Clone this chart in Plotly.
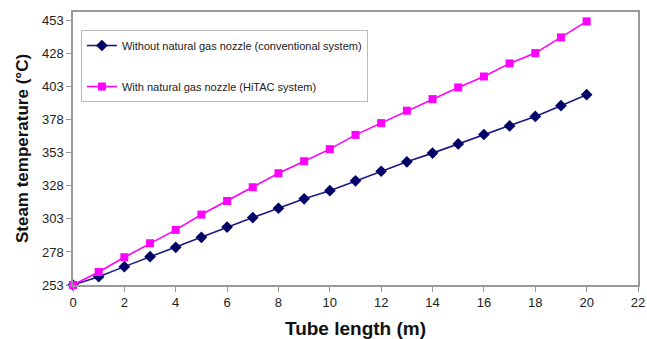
import plotly.graph_objects as go

tube_length = list(range(0, 21))
without_nozzle = [253, 259.3, 266.9, 274.4, 281.5, 289.1, 296.8, 304, 311.1, 318.2, 324.4,
                  331.8, 339.1, 346.2, 352.8, 359.8, 366.9, 373.4, 380.6, 388.7, 397]
with_nozzle = [253, 262.8, 274, 284.6, 294.7, 306.3, 316.6, 327, 337.6, 346.7, 355.8,
               366.6, 375.5, 384.9, 393.7, 402.5, 410.8, 420.7, 428.5, 440.4, 452.5]
y_ticks = [253, 278, 303, 328, 353, 378, 403, 428, 453]
x_ticks = list(range(0, 23, 2))

name1 = "Without natural gas nozzle (conventional system)"
name2 = "With natural gas nozzle (HiTAC system)"

font_fam = "Liberation Sans, Arial, sans-serif"
title_fam = "Liberation Sans, Arial, sans-serif"

fig = go.Figure()
fig.add_trace(go.Scatter(x=tube_length, y=without_nozzle, mode="lines+markers", name=name1,
                         legendgroup="a",
                         line=dict(color="#1a1a80", width=1.6),
                         marker=dict(symbol="diamond", size=9, color="#000066")))
fig.add_trace(go.Scatter(x=tube_length, y=with_nozzle, mode="lines+markers", name=name2,
                         legendgroup="b",
                         line=dict(color="#ff00ff", width=1.6),
                         marker=dict(symbol="square", size=8, color="#ff00ff")))

axis_common = dict(showgrid=False, zeroline=False, showline=True, linecolor="#999999",
                   linewidth=1.5, mirror=True, ticks="outside", tickcolor="#999999",
                   ticklen=5, tickfont=dict(size=13, color="#222222", family=font_fam))

fig.update_layout(
    width=647, height=339,
    margin=dict(l=73, r=9, t=12, b=54),
    paper_bgcolor="white", plot_bgcolor="white",
    showlegend=True,
    legend=dict(x=0.014, y=0.934, xanchor="left", yanchor="top",
                bordercolor="#bbbbbb", borderwidth=1, bgcolor="white",
                font=dict(size=11, color="#222222", family=font_fam),
                traceorder="grouped", tracegroupgap=22, itemwidth=30),
    xaxis=dict(range=[0, 22], tickvals=x_ticks, automargin=False,
               title=dict(text="Tube length (m)", standoff=12,
                          font=dict(size=19, family=title_fam, color="#111111", weight="bold")),
               **axis_common),
    yaxis=dict(range=[253, 459.6], tickvals=y_ticks, automargin=False,
               title=dict(text="Steam temperature (°C)", standoff=9,
                          font=dict(size=17, family=title_fam, color="#111111", weight="bold")),
               **axis_common),
)
fig.update_traces(cliponaxis=False)

fig.write_html("out.html")
